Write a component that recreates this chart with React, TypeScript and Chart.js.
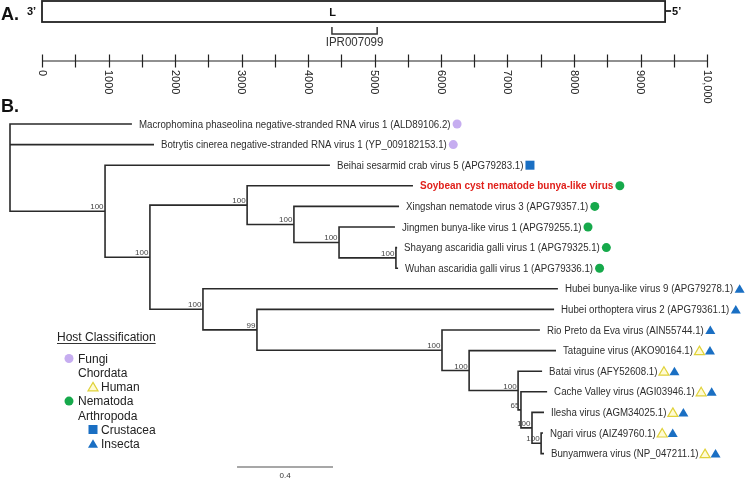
import React, { useEffect, useRef } from 'react';
import { Chart, registerables } from 'chart.js';

Chart.register(...registerables);

const FONT = '"Liberation Sans", Arial, Helvetica, sans-serif';

// ---------- Panel A: genome map ----------
const genomeLength = 9370;
const segmentName = 'L';
const domainName = 'IPR007099';
const domainStart = 4360;
const domainEnd = 5040;
const axisTickValues = [0, 1000, 2000, 3000, 4000, 5000, 6000, 7000, 8000, 9000, 10000];
const axisTickLabels = ['0', '1000', '2000', '3000', '4000', '5000', '6000', '7000', '8000', '9000', '10,000'];
const axisMinorStep = 500;

// ---------- Panel B: phylogeny ----------
const leafNames = [
  'Macrophomina phaseolina negative-stranded RNA virus 1 (ALD89106.2)',
  'Botrytis cinerea negative-stranded RNA virus 1 (YP_009182153.1)',
  'Beihai sesarmid crab virus 5 (APG79283.1)',
  'Soybean cyst nematode bunya-like virus',
  'Xingshan nematode virus 3 (APG79357.1)',
  'Jingmen bunya-like virus 1 (APG79255.1)',
  'Shayang ascaridia galli virus 1 (APG79325.1)',
  'Wuhan ascaridia galli virus 1 (APG79336.1)',
  'Hubei bunya-like virus 9 (APG79278.1)',
  'Hubei orthoptera virus 2 (APG79361.1)',
  'Rio Preto da Eva virus (AIN55744.1)',
  'Tataguine virus (AKO90164.1)',
  'Batai virus (AFY52608.1)',
  'Cache Valley virus (AGI03946.1)',
  'Ilesha virus (AGM34025.1)',
  'Ngari virus (AIZ49760.1)',
  'Bunyamwera virus (NP_047211.1)',
];
const leafHosts = [
  ['fungi'], ['fungi'], ['crustacea'], ['nematoda'], ['nematoda'], ['nematoda'],
  ['nematoda'], ['nematoda'], ['insecta'], ['insecta'], ['insecta'],
  ['human', 'insecta'], ['human', 'insecta'], ['human', 'insecta'],
  ['human', 'insecta'], ['human', 'insecta'], ['human', 'insecta'],
];
const highlightLeaf = 3;

// nodes 0-16 leaves, 17-31 internal (17 = root)
const nodeParent = [
  17, 17, 18, 20, 21, 22, 23, 23, 24, 25, 26, 27, 28, 29, 30, 31, 31,
  -1, 17, 18, 19, 20, 21, 22, 19, 24, 25, 26, 27, 28, 29, 30,
];
const branchLength = [
  0.508, 0.600, 0.937, 0.691, 0.438, 0.233, 0.005, 0.009, 1.479, 1.238, 0.408,
  0.362, 0.100, 0.109, 0.050, 0.008, 0.012,
  0, 0.396, 0.187, 0.405, 0.195, 0.188, 0.237, 0.221, 0.225, 0.771, 0.113,
  0.204, 0.012, 0.046, 0.038,
];
const nodeSupport = [
  null, null, null, null, null, null, null, null, null, null, null, null, null, null, null, null, null,
  null, 100, 100, 100, 100, 100, 100, 100, 99, 100, 100, 100, 65, 100, 100,
];
const scaleBarStart = 0.946;
const scaleBarLength = 0.4;

const legendLabels = ['Fungi', 'Chordata', 'Human', 'Nematoda', 'Arthropoda', 'Crustacea', 'Insecta'];
const legendMarkers = ['fungi', null, 'human', 'nematoda', null, 'crustacea', 'insecta'];
const legendIndent = [0, 0, 1, 0, 0, 1, 1];

function drawMarker(ctx: CanvasRenderingContext2D, kind: string, cx: number, cy: number) {
  ctx.save();
  if (kind === 'fungi' || kind === 'nematoda') {
    ctx.beginPath();
    ctx.arc(cx, cy, 4.5, 0, Math.PI * 2);
    ctx.fillStyle = kind === 'fungi' ? '#c6adf0' : '#16a94b';
    ctx.fill();
  } else if (kind === 'crustacea') {
    ctx.fillStyle = '#1a6fc3';
    ctx.fillRect(cx - 4.5, cy - 4.5, 9, 9);
  } else {
    ctx.beginPath();
    ctx.moveTo(cx, cy - 4.5);
    ctx.lineTo(cx + 5, cy + 4);
    ctx.lineTo(cx - 5, cy + 4);
    ctx.closePath();
    if (kind === 'insecta') {
      ctx.fillStyle = '#1a6fc3';
      ctx.fill();
    } else {
      ctx.fillStyle = '#fffbd4';
      ctx.fill();
      ctx.strokeStyle = '#e0d23a';
      ctx.lineWidth = 1.2;
      ctx.stroke();
    }
  }
  ctx.restore();
}

function buildTree() {
  const n = nodeParent.length;
  const depth: number[] = new Array(n).fill(NaN);
  const getDepth = (i: number): number => {
    if (!isNaN(depth[i])) return depth[i];
    const p = nodeParent[i];
    depth[i] = (p < 0 ? 0 : getDepth(p)) + branchLength[i];
    return depth[i];
  };
  for (let i = 0; i < n; i++) getDepth(i);
  const children: number[][] = Array.from({ length: n }, () => []);
  nodeParent.forEach((p, i) => { if (p >= 0) children[p].push(i); });
  const ypos: number[] = new Array(n).fill(NaN);
  const getY = (i: number): number => {
    if (!isNaN(ypos[i])) return ypos[i];
    if (i < leafNames.length) { ypos[i] = i; return i; }
    const ys = children[i].map(getY);
    ypos[i] = (Math.min(...ys) + Math.max(...ys)) / 2;
    return ypos[i];
  };
  for (let i = 0; i < n; i++) getY(i);
  const pts: { x: number; y: number | null }[] = [];
  for (let p = 0; p < n; p++) {
    const ch = children[p].slice().sort((a, b) => ypos[a] - ypos[b]);
    if (!ch.length) continue;
    const first = ch[0];
    const last = ch[ch.length - 1];
    pts.push({ x: depth[first], y: ypos[first] });
    pts.push({ x: depth[p], y: ypos[first] });
    pts.push({ x: depth[p], y: ypos[last] });
    pts.push({ x: depth[last], y: ypos[last] });
    pts.push({ x: depth[p], y: null });
    for (let k = 1; k < ch.length - 1; k++) {
      const c = ch[k];
      pts.push({ x: depth[p], y: ypos[c] });
      pts.push({ x: depth[c], y: ypos[c] });
      pts.push({ x: depth[p], y: null });
    }
  }
  return { depth, ypos, pts };
}

export default function App() {
  const refA = useRef<HTMLCanvasElement | null>(null);
  const refB = useRef<HTMLCanvasElement | null>(null);

  useEffect(() => {
    const genomePlugin = {
      id: 'genomePlugin',
      afterDraw(chart: any) {
        const { ctx } = chart;
        const x = chart.scales.x;
        ctx.save();
        ctx.fillStyle = '#111';
        ctx.font = `bold 18px ${FONT}`;
        ctx.textBaseline = 'alphabetic';
        ctx.textAlign = 'left';
        ctx.fillText('A.', 1, 20);
        const gx0 = x.getPixelForValue(0);
        const gx1 = x.getPixelForValue(genomeLength);
        ctx.strokeStyle = '#222';
        ctx.lineWidth = 1.8;
        ctx.fillStyle = '#fff';
        ctx.fillRect(gx0, 1, gx1 - gx0, 21);
        ctx.strokeRect(gx0, 1, gx1 - gx0, 21);
        ctx.beginPath();
        ctx.moveTo(gx1, 11);
        ctx.lineTo(gx1 + 6, 11);
        ctx.stroke();
        ctx.fillStyle = '#111';
        ctx.font = `bold 11px ${FONT}`;
        ctx.fillText('3\u2019', 27, 15);
        ctx.fillText('5\u2019', gx1 + 7, 15);
        ctx.textAlign = 'center';
        ctx.fillText(segmentName, x.getPixelForValue((domainStart + domainEnd) / 2) - 22, 15.5);
        const dx0 = x.getPixelForValue(domainStart);
        const dx1 = x.getPixelForValue(domainEnd);
        ctx.lineWidth = 1.5;
        ctx.strokeStyle = '#333';
        ctx.beginPath();
        ctx.moveTo(dx0, 27);
        ctx.lineTo(dx0, 34);
        ctx.lineTo(dx1, 34);
        ctx.lineTo(dx1, 27);
        ctx.stroke();
        ctx.fillStyle = '#333';
        ctx.font = `12px ${FONT}`;
        ctx.save();
        ctx.translate((dx0 + dx1) / 2, 46);
        ctx.scale(0.96, 1);
        ctx.fillText(domainName, 0, 0);
        ctx.restore();
        const ay = 61;
        ctx.strokeStyle = '#222';
        ctx.lineWidth = 1.2;
        ctx.beginPath();
        ctx.moveTo(x.getPixelForValue(0), ay);
        ctx.lineTo(x.getPixelForValue(axisTickValues[axisTickValues.length - 1]), ay);
        for (let v = 0; v <= axisTickValues[axisTickValues.length - 1]; v += axisMinorStep) {
          const px = Math.round(x.getPixelForValue(v)) + 0.5;
          ctx.moveTo(px, ay - 6.5);
          ctx.lineTo(px, ay + 6.5);
        }
        ctx.stroke();
        ctx.fillStyle = '#222';
        ctx.font = `11px ${FONT}`;
        ctx.textAlign = 'left';
        ctx.textBaseline = 'middle';
        axisTickValues.forEach((v, i) => {
          ctx.save();
          ctx.translate(x.getPixelForValue(v), 70);
          ctx.rotate(Math.PI / 2);
          ctx.fillText(axisTickLabels[i], 0, 0);
          ctx.restore();
        });
        ctx.restore();
      },
    };

    const chartA = new Chart(refA.current as HTMLCanvasElement, {
      type: 'line',
      data: { datasets: [] },
      options: {
        animation: false,
        responsive: false,
        devicePixelRatio: 1,
        events: [],
        layout: { padding: { left: 42, right: 40, top: 0, bottom: 0 } },
        plugins: { legend: { display: false }, tooltip: { enabled: false } },
        scales: {
          x: { type: 'linear', min: 0, max: 10000, display: false },
          y: { type: 'linear', min: 0, max: 1, display: false },
        },
      },
      plugins: [genomePlugin],
    } as any);

    const tree = buildTree();

    const treePlugin = {
      id: 'treePlugin',
      afterDatasetsDraw(chart: any) {
        const { ctx } = chart;
        const x = chart.scales.x;
        const y = chart.scales.y;
        ctx.save();
        ctx.fillStyle = '#111';
        ctx.font = `bold 18px ${FONT}`;
        ctx.textAlign = 'left';
        ctx.textBaseline = 'alphabetic';
        ctx.fillText('B.', 1, 112);

        leafNames.forEach((name, i) => {
          const px = x.getPixelForValue(tree.depth[i]) + 7;
          const py = y.getPixelForValue(i);
          const bold = i === highlightLeaf;
          const sx = bold ? 1 : 0.97;
          ctx.font = `${bold ? 'bold ' : ''}10px ${FONT}`;
          ctx.fillStyle = bold ? '#e0201b' : '#2e2e2e';
          ctx.save();
          ctx.translate(px, py + 3.6);
          ctx.scale(sx, 1);
          ctx.fillText(name, 0, 0);
          ctx.restore();
          let mx = px + ctx.measureText(name).width * sx + 6.5;
          leafHosts[i].forEach((h) => {
            drawMarker(ctx, h, mx, py);
            mx += 10.5;
          });
        });

        ctx.font = `8px ${FONT}`;
        ctx.fillStyle = '#444';
        ctx.textAlign = 'right';
        nodeSupport.forEach((s, i) => {
          if (s == null) return;
          ctx.fillText(String(s), x.getPixelForValue(tree.depth[i]) - 1.5, y.getPixelForValue(tree.ypos[i]) - 2);
        });

        ctx.textAlign = 'center';
        ctx.fillStyle = '#333';
        ctx.fillText(String(scaleBarLength), x.getPixelForValue(scaleBarStart + scaleBarLength / 2), 478);

        ctx.textAlign = 'left';
        ctx.font = `12px ${FONT}`;
        ctx.fillStyle = '#222';
        ctx.fillText('Host Classification', 57, 341);
        const w = ctx.measureText('Host Classification').width;
        ctx.strokeStyle = '#333';
        ctx.lineWidth = 1;
        ctx.beginPath();
        ctx.moveTo(57, 343.5);
        ctx.lineTo(57 + w, 343.5);
        ctx.stroke();
        legendLabels.forEach((lab, i) => {
          const ry = 358.5 + i * 14.2;
          const tx = legendIndent[i] ? 101 : 78;
          ctx.fillStyle = '#222';
          ctx.fillText(lab, tx, ry + 4.3);
          const m = legendMarkers[i];
          if (m) drawMarker(ctx, m, legendIndent[i] ? 93 : 69, ry);
        });
        ctx.restore();
      },
    };

    const chartB = new Chart(refB.current as HTMLCanvasElement, {
      type: 'line',
      data: {
        datasets: [
          {
            data: tree.pts,
            borderColor: '#2a2a2a',
            borderWidth: 1.6,
            pointRadius: 0,
            spanGaps: false,
            tension: 0,
            clip: false,
            borderCapStyle: 'butt',
            borderJoinStyle: 'miter',
          },
          {
            data: [
              { x: scaleBarStart, y: 16.65 },
              { x: scaleBarStart + scaleBarLength, y: 16.65 },
            ],
            borderColor: '#8a8a8a',
            borderWidth: 1.5,
            pointRadius: 0,
            clip: false,
          },
        ],
      },
      options: {
        animation: false,
        responsive: false,
        devicePixelRatio: 1,
        events: [],
        layout: { padding: { left: 10, right: 17, top: 124, bottom: 26.4 } },
        plugins: { legend: { display: false }, tooltip: { enabled: false } },
        scales: {
          x: { type: 'linear', min: 0, max: 3, display: false },
          y: { type: 'linear', min: 0, max: 16, reverse: true, display: false },
        },
      },
      plugins: [treePlugin],
    } as any);

    return () => {
      chartA.destroy();
      chartB.destroy();
    };
  }, []);

  return (
    <div style={{ position: 'absolute', left: 0, top: 0, width: 747, height: 480, background: '#fff' }}>
      <canvas ref={refA} width={747} height={480} style={{ position: 'absolute', left: 0, top: 0, width: 747, height: 480 }} />
      <canvas ref={refB} width={747} height={480} style={{ position: 'absolute', left: 0, top: 0, width: 747, height: 480 }} />
    </div>
  );
}
